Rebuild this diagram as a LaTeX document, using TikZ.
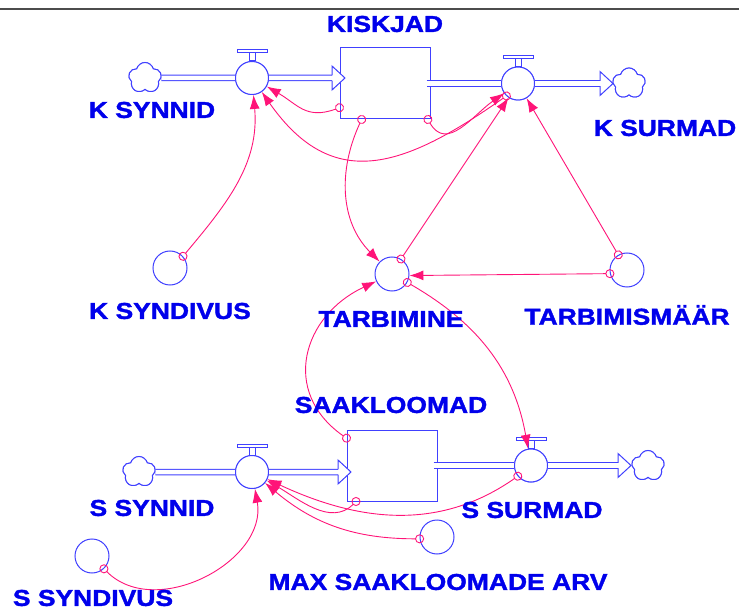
\documentclass[tikz,border=0pt]{standalone}
\usepackage{fontspec}
\newfontfamily\labelfont{Liberation Sans}[FakeStretch=1.15,FakeBold=1.6]
\usetikzlibrary{shapes,arrows.meta}
\definecolor{flowblue}{RGB}{64,64,255}
\definecolor{textblue}{RGB}{0,0,235}
\definecolor{linkpink}{RGB}{255,20,120}

% open arrow head at the end of a flow pipe
\newcommand{\pipehead}[1]{%
  \fill[white] (#1) ++(0,-12) -- ++(13,12) -- ++(-13,12) -- cycle;
  \draw[flowline] (#1) ++(0,-2.7) -- ++(0,-9.3) -- ++(13,12) -- ++(-13,12) -- ++(0,-9.3);}

\begin{document}
\begin{tikzpicture}[x=1pt,y=-1pt]
  \tikzstyle{every node}=[inner sep=0pt]
  \tikzstyle{flowline}=[draw=flowblue,line width=1pt]
  \tikzstyle{pipe}=[flowblue,line width=1pt,double,double distance=4.5pt]
  \tikzstyle{stock}=[rectangle,flowline,minimum width=90pt,minimum height=71pt]
  \tikzstyle{valve}=[circle,flowline,fill=white,minimum size=33pt]
  \tikzstyle{aux}=[circle,flowline,fill=white,minimum size=34pt]
  \tikzstyle{cloudy}=[cloud,cloud puffs=5,flowline,fill=white,minimum width=33pt,minimum height=31pt,aspect=1]
  \tikzstyle{lbl}=[text=textblue,font=\labelfont\bfseries\fontsize{23}{23}\selectfont]
  \tikzstyle{link}=[linkpink,line width=0.9pt,{Circle[open,length=9pt]}-{Latex[length=14pt,width=10pt]},shorten <=-4.5pt]

  \useasboundingbox (0,0) rectangle (739,612);
  \draw[line width=2.5pt,black!70] (0,9) -- (739,9);

  % predators
  \node[cloudy] (ksrc) at (145,78) {};
  \node[valve] (ksynnid) at (252,78) {};
  \coordinate (kin) at (332,78);
  \node[stock] (kiskjad) at (385,83.5) {};
  \node[valve] (ksurmad) at (518,83.5) {};
  \coordinate (kend) at (600,83.5);
  \node[cloudy] (ksink) at (629,83.5) {};
  \node[aux] (ksyndivus) at (170,268) {};
  \node[aux] (tarbimine) at (392,274) {};
  \node[aux] (tarbmaar) at (627,270) {};

  % prey
  \node[cloudy] (ssrc) at (139,472) {};
  \node[valve] (ssynnid) at (252,472) {};
  \coordinate (sin) at (338,472);
  \node[stock] (saakloomad) at (392,465.5) {};
  \node[valve] (ssurmad) at (531,465.5) {};
  \coordinate (send) at (618,465.5);
  \node[cloudy] (ssink) at (648,466) {};
  \node[aux] (maxarv) at (437,537) {};
  \node[aux] (ssyndivus) at (92,556) {};

  % pipes
  \draw[pipe] (ksrc) -- (ksynnid) (ksynnid) -- (kin);
  \draw[pipe] ([xshift=-4pt]kiskjad.east) -- (ksurmad) (ksurmad) -- (kend);
  \draw[pipe] (ssrc) -- (ssynnid) (ssynnid) -- (sin);
  \draw[pipe] ([xshift=-4pt]saakloomad.east) -- (ssurmad) (ssurmad) -- (send);
  \node[valve] at (ksynnid) {};
  \node[valve] at (ksurmad) {};
  \node[valve] at (ssynnid) {};
  \node[valve] at (ssurmad) {};
  \node[cloudy] at (ksrc) {};
  \node[cloudy] at (ksink) {};
  \node[cloudy] at (ssrc) {};
  \node[cloudy] at (ssink) {};
  \pipehead{kin}
  \pipehead{kend}
  \pipehead{sin}
  \pipehead{send}
  \foreach \v in {ksynnid,ksurmad,ssynnid,ssurmad}
    \draw[flowline,fill=white] ([xshift=-3pt]\v.north) rectangle ([xshift=3pt,yshift=8pt]\v.north)
      ([xshift=-15pt,yshift=8pt]\v.north) rectangle ([xshift=15pt,yshift=11pt]\v.north);

  % links
  \draw[link] (kiskjad.208) to[out=200,in=330,looseness=1.2] (ksynnid);
  \draw[link] (kiskjad.237) to[out=245,in=135] (tarbimine);
  \draw[link] (kiskjad.320) to[out=300,in=215,looseness=1.2] (ksurmad);
  \draw[link] (ksurmad.227) to[out=215,in=305,looseness=1.3] (ksynnid);
  \draw[link] (ksyndivus.42) to[out=50,in=275] (ksynnid);
  \draw[link] (tarbimine.59) -- (ksurmad);
  \draw[link] (tarbmaar.120) -- (ksurmad);
  \draw[link] (tarbmaar.192) -- (tarbimine.355);
  \draw[link] (tarbimine.331) to[out=330,in=100] (ssurmad);
  \draw[link] (saakloomad.149) to[out=145,in=205,looseness=1.3] (tarbimine);
  \draw[link] (saakloomad.225) to[out=225,in=330] (ssynnid);
  \draw[link] (ssurmad.219) to[out=215,in=335] (ssynnid);
  \draw[link] (maxarv.186) to[out=180,in=320] (ssynnid);
  \draw[link] (ssyndivus.313) to[out=315,in=280,looseness=1.1] (ssynnid);

  % labels
  \node[lbl] (kiskjadtxt) at (385,24) {KISKJAD};
  \node[lbl] (ksynnidtxt) at (152,110) {K SYNNID};
  \node[lbl] (ksurmadtxt) at (665,128) {K SURMAD};
  \node[lbl] (ksyndivustxt) at (170,311) {K SYNDIVUS};
  \node[lbl] (tarbiminetxt) at (391,319) {TARBIMINE};
  \node[lbl] (tarbmaartxt) at (627,315) {TARBIMISMÄÄR};
  \node[lbl] (saakloomadtxt) at (391,405) {SAAKLOOMAD};
  \node[lbl] (ssynnidtxt) at (152,508) {S SYNNID};
  \node[lbl] (ssurmadtxt) at (532,510) {S SURMAD};
  \node[lbl] (maxarvtxt) at (438,582) {MAX SAAKLOOMADE ARV};
  \node[lbl] (ssyndivustxt) at (93,598) {S SYNDIVUS};
\end{tikzpicture}
\end{document}
